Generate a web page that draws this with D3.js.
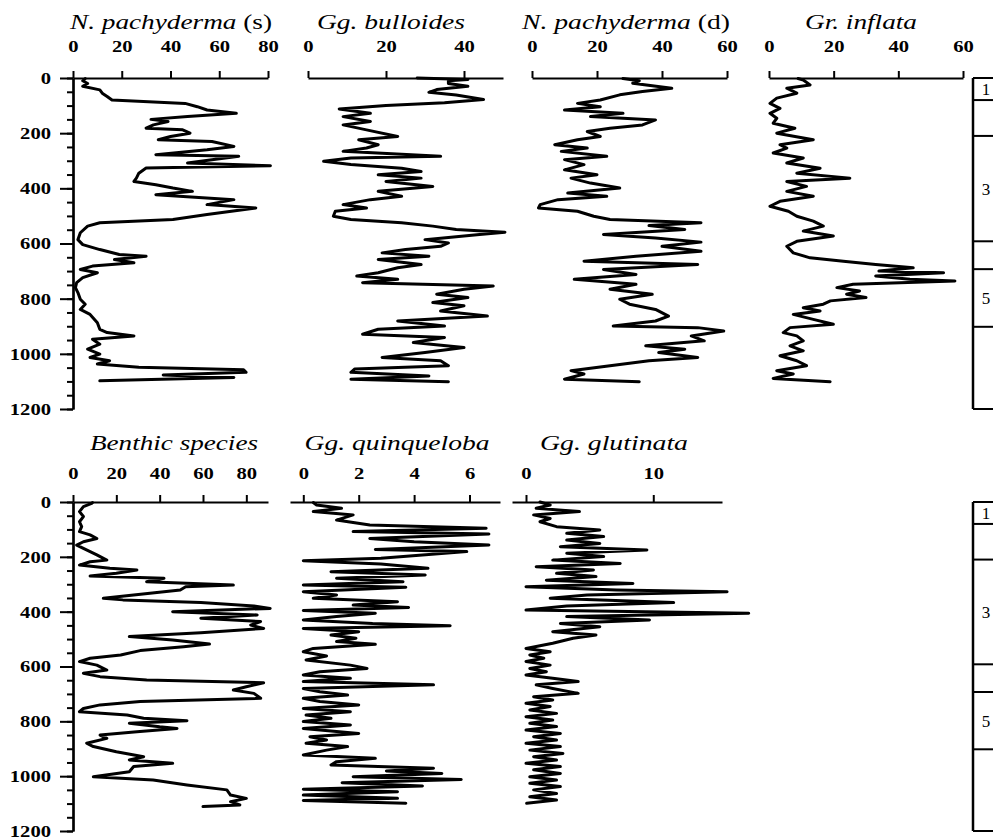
<!DOCTYPE html>
<html>
<head>
<meta charset="utf-8">
<script src="https://cdn.jsdelivr.net/npm/d3@7"></script>
<style>
  body { margin: 0; background: #fff; }
  svg text { font-family: "Liberation Serif", "Times New Roman", serif; fill: #000; }
</style>
</head>
<body>
<svg id="chart" width="993" height="840"></svg>
<script>
// ---- Depth axis ticks ----
const depthMajorTicks = [0, 200, 400, 600, 800, 1000, 1200];
const depthMinorTicks = d3.range(0, 1201, 50);

// ---- Isotope stage boundaries (depth) and labels ----
const stageBounds = [0, 80, 210, 592, 693, 902, 1200];
const stageLabels = ["1", "", "3", "", "5", ""];

// ---- N. pachyderma (s) ----
const npsDepth = [2,10,20,30,43,55,67,80,92,104,116,128,140,150,158,170,182,188,200,212,224,230,248,260,278,284,296,308,318,326,345,363,375,387,399,411,423,441,459,471,495,513,525,537,561,586,604,622,640,646,658,670,682,694,706,724,742,760,778,802,820,839,857,887,911,923,935,947,965,983,1001,1013,1025,1037,1049,1058,1067,1077,1086,1098];
const npsValue = [5,4,6,4,11,12,14,16,46,51,55,67,47,32,39,33,30,45,48,40,35,57,66,55,34,68,57,47,81,30,27,26,25,34,41,49,34,66,55,75,55,41,11,6,3,2,4,11,19,30,17,25,8,3,10,4,1.5,1,2,3,5,3,7,10,11,14,25,8,11,6,11,7,15,10,27,70,71,37,66,11];

// ---- Gg. bulloides ----
const gbuDepth = [0,5,10,20,30,42,52,62,78,90,100,112,128,140,158,170,188,212,224,242,254,266,284,290,302,314,327,339,351,363,375,393,411,429,441,459,471,483,501,513,525,537,549,559,567,586,598,610,622,634,646,658,676,688,706,718,730,742,754,766,784,796,814,826,845,863,881,899,911,929,941,959,977,995,1013,1025,1043,1055,1067,1080,1092,1101];
const gbuValue = [28,41,36,36,41,33,31,38,45,35,20,8,16,9,16,9,15,23,13,18,15,9,34,11,4,11,24,29,18,29,20,32,18,24,16,9,15,7,6.5,11,24,32,38,50.5,44,30,36,34,25,19,31,18,29,23,18,12.5,23,14,47.5,40,33,41,32,40,34,46,23,35,18,14,35,27,40,30,19,34,36,12,11,31,11,36];

// ---- N. pachyderma (d) ----
const npdDepth = [2,10,19,37,49,61,80,92,104,116,128,140,152,170,182,194,212,224,242,254,266,284,296,314,333,351,363,381,399,417,429,441,459,471,483,501,513,525,535,549,567,580,595,610,628,646,664,676,694,712,730,748,766,784,802,820,839,863,881,899,905,917,935,953,971,983,995,1013,1025,1043,1061,1073,1092,1101];
const npdValue = [28,33,31,43,34,27,21,14,21,10,28,18,38,34,24,17,21,14,7,17,9,23,10,16,10,20,12,18,27,11,23,8,2.5,2,14,19,24,52,36,47,22,38,52,40,52,32,16,51,22,32,13,32,24,37,27,30,38,42,38,25,51,59,49,53,35,47,39,51,36,24,12,16,10,33];

// ---- Gr. inflata ----
const ginDepth = [2,7,25,37,55,73,92,110,128,146,164,182,200,224,242,254,272,290,308,327,345,363,375,393,411,429,447,465,483,501,519,537,555,573,592,610,634,652,664,676,688,700,706,718,730,736,748,760,772,784,796,808,820,833,845,857,875,893,905,923,935,953,971,989,1007,1025,1043,1061,1073,1089,1101];
const ginValue = [9,10.6,12.7,5.5,8.6,2.4,0.3,3.4,0.3,2.4,1.3,8,2.4,13.7,3.4,5.5,1.3,10.6,5.5,15.8,8.6,25,5.5,11.6,5.5,13.7,3.4,0.3,6,8.6,13.7,16.8,10.6,19.9,8.6,5.5,7.5,12.7,23,33,44.6,34,54,33,43.6,57.5,26,21,28,24,30,19,16.8,10.6,15.8,7.5,13.7,19.9,6.5,4.4,8.6,10.6,6.5,10.6,3.4,8.6,11.6,2.4,7.5,1.3,18.9];

// ---- Benthic species ----
const benDepth = [2,5,17,35,53,72,90,108,120,133,145,157,169,181,193,212,218,230,242,248,260,270,278,291,303,309,321,339,351,357,367,379,388,400,412,424,436,449,461,477,491,503,518,528,542,558,570,582,595,613,625,637,649,659,674,686,698,716,728,740,753,765,777,789,798,807,820,826,838,850,862,880,892,911,929,941,953,965,984,1002,1014,1032,1050,1069,1081,1093,1105,1111];
const benValue = [9,8.6,4.8,3,4.8,3,4,3,7.9,11,4.8,1.7,4.8,7.9,11,15.6,7.9,3,17,29.5,20,7.9,42,34,74,52,49.5,28,14,23,59,83.5,91,46,85,59,86.6,82,88,59,26,46,63,51,31,22,7.9,3,11,15.6,4.8,12.5,34,88,80,74,83.5,86.6,31,12.5,4.8,3,25,32.6,52.6,26,40,48,29.5,12.5,15.6,6.3,9.4,20,32.6,26,46,28,26,9.4,37,52.6,71,72.7,80,72.7,77,60];

// ---- Gg. quinqueloba ----
const gquDepth = [2,11,23,35,47,66,84,96,108,117,133,145,157,173,181,193,205,214,226,242,254,266,278,291,303,311,327,339,351,364,376,385,396,406,418,430,443,451,461,473,485,497,509,519,534,546,562,576,595,607,619,631,643,655,667,680,692,704,716,728,740,753,765,777,789,801,813,826,844,856,868,880,892,905,923,935,947,959,971,981,990,1002,1012,1024,1036,1048,1057,1069,1081,1089,1099];
const gquValue = [0.36,0.48,1.38,0.36,1.8,1.2,2.4,6.6,1.8,6.7,2.4,4,6.7,2.6,5.9,4.3,2.8,0,2.8,4.5,1,4.4,1.2,3.6,0,3.7,0,1.2,0.36,3.4,1.8,3.8,0,2.6,1.2,0,2.5,5.3,0,2,1,1.9,1.2,2.6,0.36,0,0.84,0.1,1.7,2.3,0.6,0,1.7,0,4.7,0,0.6,1.6,0,0.6,2,0,1.7,0.1,1,0,1.7,0,2,0.24,0.84,0.1,1.6,0.84,0,2.6,1.2,1,4.7,3,5,1.8,5.7,1.4,4.3,0,3.4,0,3.4,0,3.7];

// ---- Gg. glutinata ----
const gglDepth = [0,11,23,35,47,60,72,90,102,114,126,139,151,163,175,187,199,212,224,236,248,260,272,285,297,309,321,327,339,351,367,379,394,406,418,430,443,455,473,485,497,515,534,546,558,570,582,595,607,619,631,643,655,667,680,698,710,722,734,746,759,771,783,795,807,819,832,844,856,868,880,892,905,917,929,941,953,965,977,990,1002,1014,1026,1038,1050,1063,1075,1087,1099];
const gglValue = [1.1,1.9,0.8,4.2,0.6,1.9,1.1,2.4,5.8,3.2,6.1,3.2,5.8,2.7,9.5,3.2,6.1,2.1,7.4,0.8,5.3,2.4,5.5,1.6,8.4,0,7.1,15.8,4.8,1.9,11.6,3.2,0,17.5,3.2,9.7,2.7,5.8,2.1,5.5,3.7,2.1,0,1.9,0.3,1.4,0,1.9,0.3,1.6,0,2.1,4.1,0.8,2.1,4.1,0.6,2.1,0,1.9,0.3,2.4,0,2.1,0.3,2.4,0,2.7,0.6,2.4,0,2.7,0.3,2.9,0.6,2.4,0,2.7,0.6,2.7,0.3,2.4,0.3,2.7,0.6,2.4,0.3,2.4,0.05];

// ---- Layout ----
const svg = d3.select("#chart");
svg.append("rect").attr("width", 993).attr("height", 840).attr("fill", "#fff");

const AXIS_X = 73;          // depth axis position
const ZONE_X = 973;         // stage column left edge
const DIGIT_W = 10.3;       // printed width of one tick-label digit
const rows = [
  { y: d3.scaleLinear().domain([0, 1200]).range([78, 409]),  titleY: 29,  tickPad: 19 },
  { y: d3.scaleLinear().domain([0, 1200]).range([502, 831]), titleY: 450, tickPad: 16 }
];

const panels = [
  { row: 0, title: [["N. pachyderma ", true], ["(s)", false]], width: 202, depth: npsDepth, value: npsValue,
    domain: [0, 80], range: [73, 268], ticks: [0, 20, 40, 60, 80], cx: 171 },
  { row: 0, title: [["Gg. bulloides", true]], width: 148, depth: gbuDepth, value: gbuValue,
    domain: [0, 50], range: [308, 503], ticks: [0, 20, 40], cx: 391 },
  { row: 0, title: [["N. pachyderma ", true], ["(d)", false]], width: 208, depth: npdDepth, value: npdValue,
    domain: [0, 60], range: [532, 727], ticks: [0, 20, 40, 60], cx: 626 },
  { row: 0, title: [["Gr. inflata", true]], width: 112, depth: ginDepth, value: ginValue,
    domain: [0, 60], range: [769, 963], ticks: [0, 20, 40, 60], cx: 861 },
  { row: 1, title: [["Benthic species", true]], width: 168, depth: benDepth, value: benValue,
    domain: [0, 90], range: [73, 268], ticks: [0, 20, 40, 60, 80], cx: 174 },
  { row: 1, title: [["Gg. quinqueloba", true]], width: 185, depth: gquDepth, value: gquValue,
    domain: [-0.48, 7.1], range: [290, 500], ticks: [0, 2, 4, 6], cx: 397 },
  { row: 1, title: [["Gg. glutinata", true]], width: 148, depth: gglDepth, value: gglValue,
    domain: [-1.1, 15.4], range: [512, 722], ticks: [0, 10], cx: 614 }
];

function styleAxis(g) {
  g.attr("font-family", null);
  g.selectAll("path.domain").attr("stroke", "#000").attr("stroke-width", 2.2);
  g.selectAll(".tick line").attr("stroke", "#000").attr("stroke-width", 2);
  g.selectAll(".tick text")
    .attr("font-size", 17).attr("font-weight", "bold").attr("fill", "#000")
    .each(function () {
      const s = this.textContent;
      if (s) {
        d3.select(this)
          .attr("textLength", s.length * DIGIT_W)
          .attr("lengthAdjust", "spacingAndGlyphs");
      }
    });
}

// Depth axes and stage columns for each row
rows.forEach(r => {
  const minor = svg.append("g").attr("transform", `translate(${AXIS_X},0)`)
    .call(d3.axisLeft(r.y).tickValues(depthMinorTicks).tickSize(6).tickSizeOuter(0).tickFormat(""));
  styleAxis(minor);
  const major = svg.append("g").attr("transform", `translate(${AXIS_X},0)`)
    .call(d3.axisLeft(r.y).tickValues(depthMajorTicks).tickSize(13).tickSizeOuter(0)
      .tickPadding(9).tickFormat(d3.format("d")));
  styleAxis(major);

  // stage column
  const zone = svg.append("g");
  zone.append("line")
    .attr("x1", ZONE_X).attr("x2", ZONE_X)
    .attr("y1", r.y(0)).attr("y2", r.y(1200))
    .attr("stroke", "#000").attr("stroke-width", 2.5);
  stageBounds.forEach(b => {
    zone.append("line")
      .attr("x1", ZONE_X).attr("x2", 1000)
      .attr("y1", r.y(b)).attr("y2", r.y(b))
      .attr("stroke", "#000").attr("stroke-width", 2);
  });
  stageLabels.forEach((lab, i) => {
    if (!lab) return;
    const mid = (r.y(stageBounds[i]) + r.y(stageBounds[i + 1])) / 2;
    zone.append("text")
      .attr("x", 986).attr("y", mid + 6)
      .attr("text-anchor", "middle")
      .attr("font-size", 17)
      .text(lab);
  });
});

// Species panels
panels.forEach(p => {
  const r = rows[p.row];
  const x = d3.scaleLinear().domain(p.domain).range(p.range);
  const axis = svg.append("g").attr("transform", `translate(0,${r.y(0)})`)
    .call(d3.axisTop(x).tickValues(p.ticks).tickSize(7).tickSizeOuter(0)
      .tickPadding(r.tickPad).tickFormat(d3.format("d")));
  styleAxis(axis);

  const pts = p.depth.map((d, i) => ({ d: d, v: p.value[i] }));
  const line = d3.line().x(q => x(q.v)).y(q => r.y(q.d));
  svg.append("path")
    .datum(pts)
    .attr("d", line)
    .attr("fill", "none")
    .attr("stroke", "#000")
    .attr("stroke-width", 3)
    .attr("stroke-linejoin", "round")
    .attr("stroke-linecap", "round");

  const t = svg.append("text")
    .attr("x", p.cx).attr("y", r.titleY)
    .attr("text-anchor", "middle")
    .attr("font-size", 21)
    .attr("textLength", p.width)
    .attr("lengthAdjust", "spacingAndGlyphs");
  p.title.forEach(([s, it]) => {
    t.append("tspan").attr("font-style", it ? "italic" : "normal").text(s);
  });
});
</script>
</body>
</html>
